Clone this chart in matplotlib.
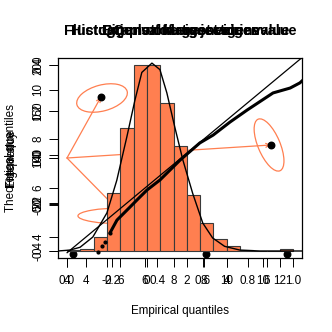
import numpy as np
import matplotlib
matplotlib.use('Agg')
import matplotlib.pyplot as plt
from matplotlib.patches import Ellipse
from matplotlib.transforms import ScaledTranslation

plt.rcParams['font.family'] = ['Liberation Sans', 'DejaVu Sans']
plt.rcParams['axes.unicode_minus'] = False

# ---- data ----
# histogram of the largest eigenvalue
bin_edges = [4.0, 4.5, 5.0, 5.5, 6.0, 6.5, 7.0, 7.5, 8.0, 8.5, 9.0,
             9.5, 10.0, 10.5, 11.0, 11.5, 12.0, 12.5]
counts = [1, 2, 15, 62, 132, 200, 200, 159, 113, 60, 30, 13, 5, 1, 0, 0, 2]
dens_x = [3.66, 4.11, 4.49, 4.97, 5.5, 5.87, 6.25, 6.55, 6.81, 7.19, 7.49,
          7.75, 8.05, 8.35, 8.72, 9.10, 9.47, 9.92, 10.49, 11.24, 12.81]
dens_y = [0, 1, 4, 15, 41, 76, 123, 162, 192, 202, 195,
          170, 133, 98, 62, 30, 14, 5, 1, 0, 0]
hist_xticks = [4, 6, 8, 10, 12]
hist_yticks = [0, 50, 100, 150, 200]

# Q-Q plot
qq_x = [4.41, 4.54, 4.64, 4.81, 5.05, 5.49, 5.76, 6.07, 6.51, 7.19, 7.86,
        8.31, 8.88, 9.46, 10.34, 10.92, 11.25, 11.36]
qq_y = [3.39, 3.63, 3.80, 4.16, 4.69, 5.22, 5.55, 5.92, 6.33, 7.14, 7.84,
        8.16, 8.69, 9.18, 9.88, 10.08, 10.29, 10.41]
ref_x = [3.36, 11.5]
ref_y = [3.36, 11.5]
qq_ticks = [4, 6, 8, 10]

# eigenvector ellipses
el_cx = [0.155, 0.894, 0.252]
el_cy = [0.258, 0.056, -0.249]
el_a = [26, 28, 46]      # semi axes, pixels
el_b = [13, 11, 8]
el_ang = [15, 113, 0]
pt_x = [0.150, 0.903, 0.027, 0.615, 0.973]
pt_y = [0.262, 0.056, -0.413, -0.413, -0.413]
arr_x = [0.150, 0.903, 0.252]
arr_y = [0.262, 0.056, -0.249]
el_xticks = [0.0, 0.2, 0.4, 0.6, 0.8, 1.0]
el_yticks = [-0.4, -0.2, 0.0, 0.2, 0.4]

# fourth (empty) panel axes
s4_xticks = [-2, 0, 2, 4, 6]
s4_yticks = [20, 40]

titles = ["Fluctuations of largest eigenvalue",
          "Histogram of largest eigenvalue",
          "Eigenvalue trajectories",
          "QQ-plot of eigenvalues"]
ylabels = ["Theoretical quantiles", "Frequency", "Eigenvalue"]
xlabel = "Empirical quantiles"

coral = '#FF7F50'
fs = 8.4

fig = plt.figure(figsize=(3.32, 3.32), dpi=100)
rect = [58/332, 74/332, 244/332, 200/332]


def r_axes(z, xlim, ylim, xticks, yticks, xfmt=None, yfmt=None):
    ax = fig.add_axes(rect, facecolor='none', zorder=z)
    ax.set_xlim(*xlim)
    ax.set_ylim(*ylim)
    for s in ax.spines.values():
        s.set_visible(False)
    ax.set_xticks(xticks)
    ax.set_yticks(yticks)
    if xfmt:
        ax.set_xticklabels([xfmt % t for t in xticks])
    if yfmt:
        ax.set_yticklabels([yfmt % t for t in yticks])
    ax.tick_params(direction='out', length=6.3, width=0.7, labelsize=fs,
                   pad=6, colors='black')
    ax.tick_params(axis='y', pad=3.6, labelrotation=90)
    for lab in ax.get_yticklabels():
        lab.set_va('center')
    return ax


# ellipse plot (bottom layer)
ax_el = r_axes(1, (-0.0398, 1.0398), (-0.430, 0.430), el_xticks, el_yticks,
               '%.1f', '%.1f')
for cx, cy, a, b, ang in zip(el_cx, el_cy, el_a, el_b, el_ang):
    tr = fig.dpi_scale_trans + ScaledTranslation(cx, cy, ax_el.transData)
    ax_el.add_patch(Ellipse((0, 0), 2*a/100, 2*b/100, angle=ang,
                            transform=tr, fill=False, ec=coral, lw=0.9))
for x, y in zip(arr_x, arr_y):
    ax_el.annotate('', xy=(x, y), xytext=(0, 0),
                   arrowprops=dict(arrowstyle='->', color=coral, lw=0.9,
                                   shrinkA=0, shrinkB=0,
                                   mutation_scale=7))
ax_el.scatter(pt_x, pt_y, s=22, color='black', zorder=5, clip_on=False)

# histogram layer
ax_h = r_axes(2, (3.662, 12.826), (-7.53, 207.5), hist_xticks, hist_yticks)
ax_h.bar(bin_edges[:-1], counts, width=0.5, align='edge', color=coral,
         edgecolor='#3a3a3a', linewidth=0.8)
ax_h.plot(dens_x, dens_y, color='black', lw=1.0)

# qq layer
ax_q = r_axes(3, (3.051, 11.322), (3.143, 11.306), qq_ticks, qq_ticks)
ax_q.plot(ref_x, ref_y, color='black', lw=0.9)
ax_q.plot(qq_x[3:], qq_y[3:], color='black', lw=2.2, solid_capstyle='round')
ax_q.scatter(qq_x[:4], qq_y[:4], s=4, color='black')

# fourth axes, frame and labels
ax4 = r_axes(4, (-4.45, 7.75), (-2.92, 80.4), s4_xticks, s4_yticks)
for s in ax4.spines.values():
    s.set_visible(True)
    s.set_linewidth(0.9)

for t in titles:
    fig.text(180.5/332, 1 - 31/332, t, ha='center', va='center',
             fontsize=10.4, fontweight='bold')
for t in ylabels:
    fig.text(11/332, 1 - 158/332, t, ha='center', va='center',
             fontsize=fs, rotation=90)
fig.text(180/332, 1 - 311/332, xlabel, ha='center', va='center', fontsize=fs)

fig.savefig('out.png', dpi=100)
